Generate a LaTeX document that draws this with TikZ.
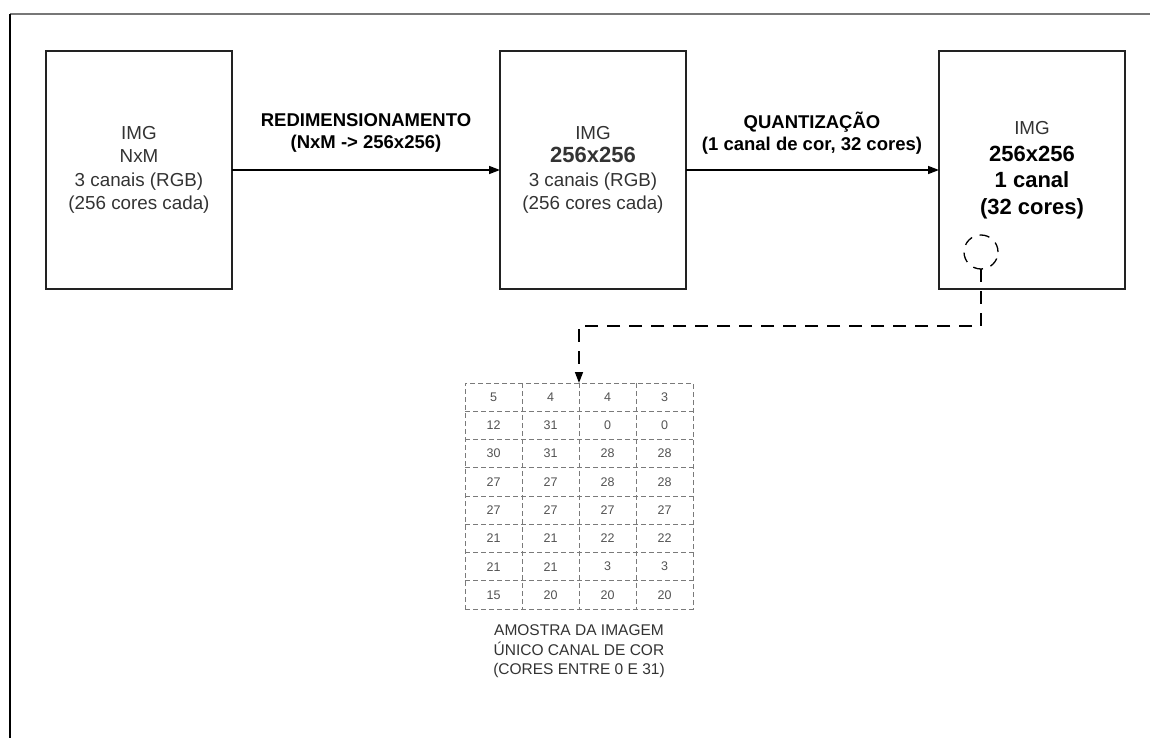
\documentclass[tikz,border=0pt]{standalone}
\usepackage{fontspec}
\setmainfont{Liberation Sans}
\usetikzlibrary{arrows.meta,positioning}
\definecolor{pipeInk}{HTML}{222222}
\definecolor{pipeText}{HTML}{333333}
\definecolor{pipeGray}{HTML}{777777}
\definecolor{pipeGrid}{HTML}{7A7A7A}
\tikzset{
  pipe diagram/.style={
    draw=pipeInk, line width=1.5pt,
    >={Triangle[length=11pt,width=8pt]},
    every node/.style={font=\fontsize{18.8}{23.5}\selectfont,
      text=pipeText, inner sep=0pt, outer sep=0pt}
  },
  pipe box/.style={draw=pipeInk, line width=1.5pt, minimum width=186pt,
    minimum height=238pt, align=center},
  pipe label/.style={font=\bfseries\fontsize{18.5}{22}\selectfont,
    text=black, align=center},
  pipe link/.style={->, draw=black, line width=1.5pt},
  pipe sample/.style={->, draw=black, line width=1.5pt, dash pattern=on 13pt off 9pt},
  pipe grid/.style={draw=pipeGrid, line width=0.9pt, dash pattern=on 5pt off 3pt},
  pipe cell/.style={font=\fontsize{12.5}{14}\selectfont, text=pipeText!85},
  pipe caption/.style={font=\fontsize{15.5}{19.5}\selectfont, align=center, text=pipeText}
}
\begin{document}
\begin{tikzpicture}[pipe diagram,x=1pt,y=-1pt]
    \useasboundingbox (0,0) rectangle (1150,738);
    \draw[pipeGray,line width=1.4pt] (10,14) -- (1150,14);
    \draw[black,line width=1.4pt] (10,14) -- (10,738);
    % etapas
    \node[pipe box] (imgA) at (139,170)
      {IMG\\NxM\\3 canais (RGB)\\(256 cores cada)};
    \node[pipe box] (imgB) at (593,170)
      {IMG\\{\bfseries\fontsize{22}{26}\selectfont 256x256}\\3 canais (RGB)\\(256 cores cada)};
    \node[pipe box,font=\bfseries\fontsize{22}{26.5}\selectfont,text=black] (imgC) at (1032,170)
      {{\mdseries\fontsize{18.8}{23}\selectfont\color{pipeText}IMG}\\256x256\\1 canal\\(32 cores)};
    \draw[pipe link] (imgA) -- (imgB);
    \draw[pipe link] (imgB) -- (imgC);
    \node[pipe label] (passoA) at (366,133) {REDIMENSIONAMENTO\\(NxM -> 256x256)};
    \node[pipe label] (passoB) at (812,133) {QUANTIZAÇÃO\\(1 canal de cor, 32 cores)};
    % recorte da imagem
    \node[draw=black, circle, minimum size=34pt, line width=1.3pt,
      dash pattern=on 10pt off 8pt] (recorte) at (981,252) {};
    \node[pipe grid, minimum width=228pt, minimum height=226pt] (amostra) at (579,496) {};
    \foreach \c in {1,2,3}
      \draw[pipe grid] ({465+57*\c},383) -- ({465+57*\c},609);
    \foreach \r in {1,...,7}
      \draw[pipe grid] (465,{383+28.25*\r}) -- (693,{383+28.25*\r});
    \foreach \linha [count=\r] in {{5,4,4,3},{12,31,0,0},{30,31,28,28},{27,27,28,28},
        {27,27,27,27},{21,21,22,22},{21,21,3,3},{15,20,20,20}}
      \foreach \v [count=\c] in \linha
        \node[pipe cell] (cel-\r-\c) at ({465+57*\c-28.5},{383+28.25*\r-14.1}) {\v};
    \draw[pipe sample] (recorte.south) -- ++(0,57) -| (amostra.north);
    \node[pipe caption, below=16pt of amostra] (legenda)
      {AMOSTRA DA IMAGEM\\ÚNICO CANAL DE COR\\(CORES ENTRE 0 E 31)};
\end{tikzpicture}
\end{document}
